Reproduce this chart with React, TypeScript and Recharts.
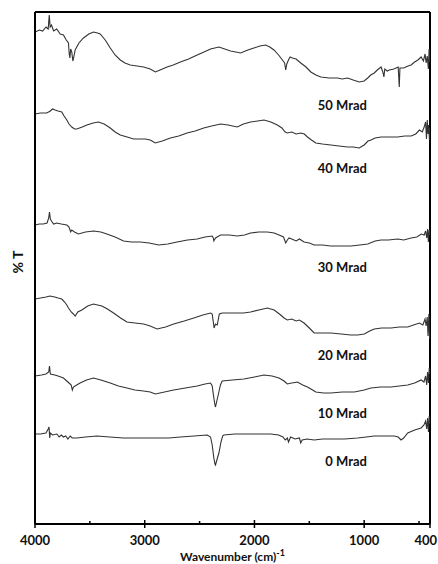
import { LineChart, Line, XAxis, YAxis, ReferenceLine, ReferenceDot } from 'recharts';

// FTIR spectra, wavenumber (cm^-1) vs %T (arbitrary offset units)
const mrad50: [number, number][] = [
  [4000, 492], [3960, 494], [3930, 493], [3900, 497], [3880, 495], [3870, 509], [3862, 497], [3850, 499],
  [3830, 493], [3802, 495], [3770, 490], [3741, 489], [3715, 484], [3695, 481], [3688, 470], [3682, 466],
  [3675, 475], [3665, 472], [3655, 463], [3648, 466], [3634, 474], [3600, 481], [3558, 486], [3510, 490],
  [3467, 492], [3430, 491], [3406, 490], [3360, 484], [3314, 476], [3270, 469], [3223, 464], [3180, 461],
  [3132, 459], [3070, 458], [3010, 457], [2950, 455], [2903, 452], [2860, 454], [2796, 457], [2740, 459],
  [2675, 462], [2600, 465], [2522, 469], [2460, 472], [2400, 475], [2324, 477], [2270, 475], [2218, 473],
  [2170, 472], [2126, 471], [2060, 474], [2005, 476], [1950, 478], [1898, 479], [1860, 477], [1822, 474],
  [1780, 469], [1745, 464], [1725, 461], [1715, 454], [1705, 460], [1690, 464], [1675, 467], [1654, 466],
  [1620, 465], [1578, 461], [1530, 457], [1486, 452], [1440, 449], [1395, 447], [1320, 446], [1243, 446],
  [1200, 445], [1151, 446], [1100, 444], [1045, 442], [1000, 443], [968, 446], [940, 449], [908, 451],
  [880, 454], [846, 457], [830, 452], [820, 447], [812, 455], [790, 453], [770, 454], [730, 455],
  [690, 457], [680, 437], [674, 456], [640, 456], [600, 458], [572, 459], [540, 462], [510, 464],
  [481, 467], [460, 463], [445, 470], [435, 461], [425, 468], [415, 455], [408, 475], [403, 462], [400, 466],
];

const mrad40: [number, number][] = [
  [4000, 410], [3950, 411], [3893, 411], [3860, 413], [3840, 415], [3817, 414], [3790, 413], [3756, 412],
  [3735, 408], [3710, 404], [3690, 400], [3665, 397], [3640, 395], [3619, 395], [3570, 397], [3527, 399],
  [3470, 401], [3421, 402], [3370, 400], [3314, 396], [3270, 392], [3223, 389], [3160, 387], [3101, 385],
  [3050, 385], [2995, 385], [2950, 384], [2903, 381], [2840, 383], [2766, 386], [2690, 388], [2614, 391],
  [2540, 393], [2462, 396], [2390, 398], [2309, 400], [2240, 399], [2157, 397], [2100, 400], [2035, 402],
  [1970, 403], [1913, 404], [1850, 402], [1791, 399], [1750, 396], [1720, 392], [1700, 391], [1660, 392],
  [1620, 390], [1578, 391], [1545, 390], [1517, 387], [1480, 384], [1441, 381], [1380, 380], [1304, 379],
  [1230, 378], [1151, 377], [1100, 377], [1045, 376], [1000, 379], [965, 383], [938, 384], [900, 386],
  [846, 387], [780, 387], [694, 387], [630, 388], [572, 388], [530, 390], [496, 394], [470, 392],
  [450, 398], [440, 402], [432, 385], [425, 404], [418, 390], [412, 399], [405, 384], [400, 396],
];

const mrad30: [number, number][] = [
  [4000, 299], [3960, 300], [3924, 300], [3890, 301], [3875, 306], [3868, 312], [3860, 305], [3850, 303],
  [3830, 300], [3802, 301], [3760, 300], [3710, 299], [3690, 297], [3675, 292], [3665, 294], [3640, 292],
  [3604, 290], [3540, 292], [3467, 293], [3400, 292], [3345, 290], [3270, 287], [3193, 283], [3120, 282],
  [3040, 282], [2960, 281], [2873, 279], [2790, 280], [2705, 282], [2610, 284], [2522, 285], [2450, 287],
  [2385, 288], [2375, 286], [2370, 283], [2355, 286], [2309, 289], [2230, 289], [2157, 288], [2090, 289],
  [2035, 291], [1960, 292], [1882, 292], [1820, 291], [1776, 289], [1735, 287], [1715, 281], [1700, 284],
  [1685, 286], [1660, 285], [1620, 283], [1590, 285], [1548, 282], [1500, 281], [1456, 279], [1380, 279],
  [1304, 278], [1220, 278], [1121, 278], [1040, 279], [968, 280], [900, 283], [846, 284], [780, 284],
  [694, 285], [640, 284], [572, 286], [520, 287], [480, 290], [453, 289], [440, 293], [430, 286],
  [422, 295], [415, 282], [408, 294], [400, 289],
];

const mrad20: [number, number][] = [
  [4000, 225], [3950, 226], [3900, 227], [3863, 228], [3820, 227], [3790, 226], [3756, 225], [3730, 222],
  [3710, 219], [3695, 216], [3670, 212], [3650, 210], [3634, 208], [3610, 212], [3573, 214], [3520, 218],
  [3467, 220], [3430, 219], [3390, 218], [3340, 215], [3284, 211], [3220, 206], [3162, 202], [3090, 201],
  [3010, 200], [2950, 198], [2888, 195], [2810, 197], [2736, 200], [2640, 203], [2553, 206], [2470, 209],
  [2400, 211], [2385, 210], [2375, 202], [2368, 196], [2355, 200], [2339, 199], [2320, 210], [2294, 211],
  [2220, 211], [2157, 211], [2100, 211], [2035, 212], [1960, 214], [1882, 216], [1820, 214], [1761, 209],
  [1730, 206], [1700, 204], [1660, 205], [1620, 203], [1590, 204], [1548, 201], [1500, 196], [1456, 191],
  [1380, 191], [1304, 191], [1210, 190], [1121, 189], [1060, 189], [999, 190], [950, 193], [908, 195],
  [840, 196], [755, 196], [680, 197], [603, 197], [550, 199], [496, 201], [465, 199], [445, 205],
  [435, 198], [425, 207], [418, 188], [410, 210], [404, 185], [400, 195],
];

const mrad10: [number, number][] = [
  [4000, 148], [3940, 149], [3900, 150], [3875, 152], [3868, 158], [3860, 150], [3820, 149], [3790, 148],
  [3741, 146], [3700, 142], [3670, 139], [3660, 134], [3650, 137], [3620, 139], [3589, 141], [3530, 144],
  [3467, 146], [3400, 144], [3314, 141], [3240, 138], [3162, 136], [3090, 134], [3010, 133], [2950, 132],
  [2903, 130], [2820, 132], [2736, 134], [2630, 136], [2522, 138], [2450, 140], [2400, 141], [2385, 138],
  [2370, 126], [2360, 119], [2355, 117], [2345, 122], [2324, 132], [2310, 139], [2294, 143], [2200, 144],
  [2096, 145], [2000, 147], [1913, 149], [1840, 148], [1776, 146], [1730, 143], [1700, 140], [1660, 141],
  [1608, 142], [1560, 139], [1517, 137], [1470, 134], [1441, 132], [1370, 131], [1304, 131], [1200, 132],
  [1090, 132], [1000, 134], [938, 136], [850, 137], [755, 137], [680, 138], [603, 139], [540, 141],
  [481, 144], [455, 142], [440, 148], [430, 139], [422, 152], [414, 141], [407, 156], [400, 150],
];

const mrad0: [number, number][] = [
  [4000, 90], [3950, 90], [3900, 91], [3880, 95], [3872, 97], [3866, 86], [3860, 91], [3840, 89],
  [3800, 90], [3780, 87], [3760, 89], [3741, 87], [3720, 88], [3700, 85], [3680, 88], [3660, 86],
  [3619, 86], [3540, 87], [3436, 88], [3320, 87], [3193, 86], [3040, 86], [2888, 86], [2780, 86],
  [2675, 87], [2550, 88], [2431, 89], [2400, 87], [2385, 79], [2370, 66], [2360, 60], [2355, 59],
  [2345, 63], [2324, 71], [2305, 82], [2290, 88], [2279, 89], [2180, 90], [2065, 90], [1960, 90],
  [1852, 90], [1780, 89], [1740, 87], [1720, 84], [1700, 86], [1690, 82], [1670, 87], [1630, 85],
  [1590, 86], [1578, 81], [1565, 84], [1520, 85], [1456, 84], [1380, 85], [1304, 85], [1180, 85],
  [1060, 86], [980, 87], [908, 88], [810, 88], [725, 88], [690, 87], [664, 84], [640, 86],
  [603, 91], [540, 94], [481, 96], [455, 99], [440, 103], [430, 95], [422, 106], [414, 92],
  [407, 108], [400, 100],
];

const spectra = [mrad50, mrad40, mrad30, mrad20, mrad10, mrad0];
const doseLabels = ['50 Mrad', '40 Mrad', '30 Mrad', '20 Mrad', '10 Mrad', '0 Mrad'];
const labelLevels = [419, 356, 257, 169, 111, 63];
const labelWavenumber = 975;

const xTicks = [4000, 3500, 3000, 2500, 2000, 1500, 1000, 500, 400];
const majorTicks = [4000, 3000, 2000, 1000, 400];

const FONT = 'Lato, "Open Sans", sans-serif';

const toRows = (pts: [number, number][]) => pts.map(([wn, t]) => ({ wn, t }));

function XTick({ x, y, payload }: any) {
  const major = majorTicks.includes(payload.value);
  // the last label sits against the right edge of the page
  const edge = payload.value === 400;
  return (
    <g>
      <line x1={x} x2={x} y1={y - (major ? 4 : 3)} y2={y + (major ? 4 : 0)} stroke="#000" strokeWidth={1.5} />
      {major && (
        <text x={edge ? x + 7 : x} y={y + 21} textAnchor={edge ? 'end' : 'middle'} fontFamily={FONT}
          fontWeight="bold" fontSize={13} fill="#111">
          {payload.value}
        </text>
      )}
    </g>
  );
}

function XTitle({ viewBox }: any) {
  const cx = viewBox.x + viewBox.width / 2;
  return (
    <text x={cx} y={viewBox.y + 37} textAnchor="middle" fontFamily={FONT} fontWeight="bold" fontSize={12} fill="#111">
      Wavenumber (cm)
      <tspan dy={-5} fontSize={9}>-1</tspan>
    </text>
  );
}

function YTitle({ viewBox }: any) {
  const x = viewBox.x + 17;
  const y = viewBox.y + viewBox.height / 2 - 6;
  return (
    <text x={x} y={y} transform={`rotate(-90, ${x}, ${y})`} textAnchor="middle" dominantBaseline="central"
      fontFamily={FONT} fontWeight="bold" fontSize={14} fill="#111">
      % T
    </text>
  );
}

export default function App() {
  return (
    <div style={{ width: 438, height: 564, background: '#fff' }}>
      <style>{'body{margin:0}'}</style>
      <LineChart width={438} height={564} margin={{ top: 12, right: 8, left: 0, bottom: 0 }}>
        <XAxis
          dataKey="wn"
          type="number"
          domain={[400, 4000]}
          reversed
          ticks={xTicks}
          interval={0}
          tickSize={0}
          tickMargin={0}
          tickLine={false}
          height={40}
          axisLine={{ stroke: '#000', strokeWidth: 2 }}
          tick={<XTick />}
          label={<XTitle />}
          allowDataOverflow
        />
        <YAxis
          type="number"
          domain={[0, 512]}
          width={35}
          tick={false}
          tickLine={false}
          axisLine={{ stroke: '#000', strokeWidth: 2 }}
          label={<YTitle />}
          allowDataOverflow
        />
        <ReferenceLine y={512} stroke="#000" strokeWidth={2} />
        <ReferenceLine x={400} stroke="#000" strokeWidth={2} />
        {spectra.map((s, i) => (
          <Line
            key={doseLabels[i]}
            data={toRows(s)}
            dataKey="t"
            type="linear"
            stroke="#333"
            strokeWidth={1.1}
            dot={false}
            isAnimationActive={false}
          />
        ))}
        {doseLabels.map((name, i) => (
          <ReferenceDot
            key={name}
            x={labelWavenumber}
            y={labelLevels[i]}
            r={0}
            fill="none"
            stroke="none"
            label={{ value: name, position: 'left', offset: 0, fontFamily: FONT, fontWeight: 'bold', fontSize: 13, fill: '#111' }}
          />
        ))}
      </LineChart>
    </div>
  );
}
